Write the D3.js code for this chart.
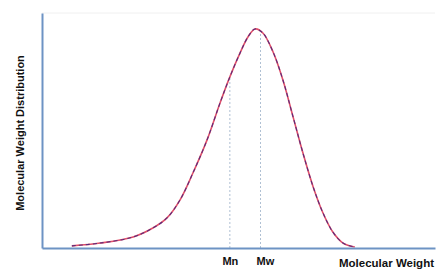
<!DOCTYPE html>
<html lang="en">
  <head>
    <meta charset="UTF-8" />
    <title>Molecular Weight Distribution</title>
    <style>
      body { margin: 0; background: #fff; }
      text { font-family: "Liberation Sans", Arial, sans-serif; font-weight: bold; fill: #111; }
    </style>
  </head>
  <body>
    <script src="https://cdn.jsdelivr.net/npm/d3@7"></script>
    <script>
      // curve (arbitrary units, 0..100 each way)
      var molWeight = [7.6, 14.8, 23.2, 28.2, 31.8, 35.1, 38.4, 42.0, 45.3, 47.8, 50.4, 52.4, 54.2,
                       56.2, 58.8, 61.3, 63.9, 66.4, 69.0, 71.5, 74.0, 76.6, 79.6];
      var distribution = [0.9, 2.1, 4.7, 8.5, 12.8, 20.4, 31.9, 46.0, 61.7, 72.8, 83.0, 89.8, 93.2,
                          91.5, 83.4, 71.5, 55.7, 40.4, 26.0, 14.9, 6.8, 2.1, 0.4];
      var markerNames = ["Mn", "Mw"];
      var markerValues = [47.8, 55.6];

      var w = 440, h = 277;
      var margin = { top: 13, right: 5, bottom: 29, left: 42 };

      var svg = d3.select("body").append("svg")
        .attr("width", w)
        .attr("height", h);

      var xScale = d3.scaleLinear().domain([0, 100]).range([margin.left, w - margin.right]);
      var yScale = d3.scaleLinear().domain([0, 100]).range([h - margin.bottom, margin.top]);

      var data = molWeight.map(function(d, i) { return { x: d, y: distribution[i] }; });

      var line = d3.line()
        .x(function(d) { return xScale(d.x); })
        .y(function(d) { return yScale(d.y); })
        .curve(d3.curveCatmullRom);

      // faint top border
      svg.append("line")
        .attr("x1", xScale(0)).attr("x2", xScale(100))
        .attr("y1", yScale(100)).attr("y2", yScale(100))
        .attr("stroke", "#f0f0f0");

      // dotted guide lines for Mn and Mw, up to the curve
      var curveAt = function(xv) {
        for (var i = 1; i < data.length; i++) {
          if (data[i].x >= xv) {
            var t = (xv - data[i - 1].x) / (data[i].x - data[i - 1].x);
            return data[i - 1].y + t * (data[i].y - data[i - 1].y);
          }
        }
        return 0;
      };
      svg.selectAll(".guide")
        .data(markerValues)
        .enter().append("line")
        .attr("class", "guide")
        .attr("x1", function(d) { return xScale(d); })
        .attr("x2", function(d) { return xScale(d); })
        .attr("y1", yScale(0))
        .attr("y2", function(d) { return yScale(curveAt(d)); })
        .attr("stroke", "#9ab0c8")
        .attr("stroke-width", 0.8)
        .attr("stroke-dasharray", "2,2");

      // the curve: red line with a dark purple dashed overlay
      svg.append("path")
        .datum(data)
        .attr("d", line)
        .attr("fill", "none")
        .attr("stroke", "#e0506a")
        .attr("stroke-width", 1.6);
      svg.append("path")
        .datum(data)
        .attr("d", line)
        .attr("fill", "none")
        .attr("stroke", "#5a2a7a")
        .attr("stroke-width", 1.1)
        .attr("stroke-dasharray", "4,3");

      // axes
      var xAxis = d3.axisBottom(xScale)
        .tickValues(markerValues)
        .tickFormat(function(d, i) { return markerNames[i]; })
        .tickSize(0)
        .tickPadding(9);
      var gx = svg.append("g")
        .attr("transform", "translate(0," + yScale(0) + ")")
        .call(xAxis);
      gx.select(".domain").attr("stroke", "#6d93c4").attr("stroke-width", 2);
      gx.selectAll(".tick text")
        .style("font-family", "'Liberation Sans', Arial, sans-serif")
        .style("font-weight", "bold")
        .style("font-size", "11px")
        .attr("fill", "#111")
        .attr("dx", function(d, i) { return i === 0 ? "0" : "0.4em"; });

      var yAxis = d3.axisLeft(yScale).tickValues([]).tickSize(0);
      var gy = svg.append("g")
        .attr("transform", "translate(" + xScale(0) + ",0)")
        .call(yAxis);
      gy.select(".domain").attr("stroke", "#6d93c4").attr("stroke-width", 2);

      // axis titles
      svg.append("text")
        .attr("x", w - 6)
        .attr("y", 267)
        .attr("text-anchor", "end")
        .style("font-size", "11.5px")
        .text("Molecular Weight");

      svg.append("text")
        .attr("transform", "translate(24," + 133 + ") rotate(-90)")
        .attr("text-anchor", "middle")
        .style("font-size", "11px")
        .text("Molecular Weight Distribution");
    </script>
  </body>
</html>
